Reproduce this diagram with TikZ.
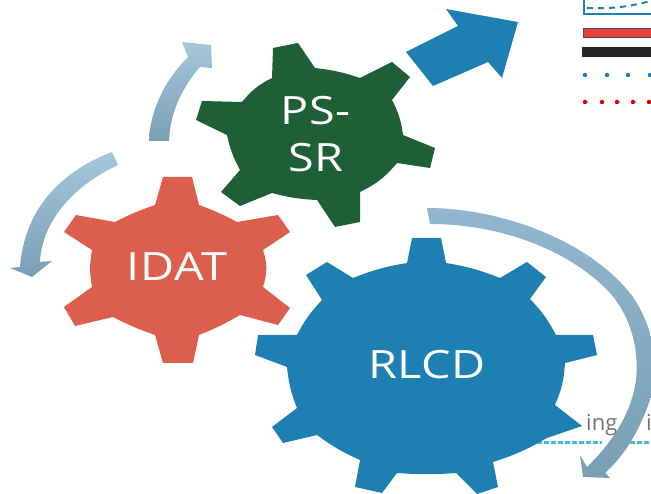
\documentclass[tikz,border=0pt]{standalone}
\usepackage{fontspec}
\setmainfont{Open Sans}
\newfontfamily\gearfont[FakeStretch=1.2,LetterSpace=1.5]{Open Sans}
\definecolor{gearred}{HTML}{DC5F4E}
\definecolor{geargreen}{HTML}{1F5F36}
\definecolor{gearblue}{HTML}{1E80B2}
\definecolor{swirltop}{HTML}{A6C6DC}
\definecolor{swirlbot}{HTML}{7A9FB5}
\definecolor{swirlmid}{HTML}{92B6CD}
\definecolor{barred}{HTML}{E8403F}
\definecolor{scrapcyan}{HTML}{3FC0D8}
\tikzset{
  gear/.style={draw=none},
  gearlabel/.style={text=white,font=\gearfont\fontsize{39}{47}\selectfont,align=center,inner sep=0pt},
  swirl/.style={draw=none,top color=swirltop,bottom color=swirlbot},
  legendbar/.style={draw=none,minimum width=69pt,minimum height=10pt,inner sep=0pt,anchor=west},
  legenddot/.style={circle,inner sep=0pt,minimum size=4.5pt},
  scraptext/.style={text=black!55,font=\fontsize{22}{24}\selectfont,inner sep=0pt,anchor=base west},
  scrapline/.style={scrapcyan,line width=3pt,dash pattern=on 5pt off 2pt}
}
\begin{document}
\begin{tikzpicture}[x=1pt,y=-1pt]
  \useasboundingbox (0,0) rectangle (651,494);

  % legend strip, top right
  \node[legendbar,fill=white,draw=gearblue,line width=2pt,minimum height=22pt] (legendbox) at (583,3) {};
  \coordinate (dashstart) at (587,8);
  \coordinate (dashend) at (651,1);
  \draw[gearblue,line width=2pt,dash pattern=on 6pt off 5pt] (dashstart) to[bend right=8] (dashend);
  \node[legendbar,fill=barred,draw=black!70,line width=1pt,minimum height=9pt] (redbar) at (582.5,33) {};
  \node[legendbar,fill=black!85] (blackbar) at (582,52) {};
  \foreach \x [count=\i] in {585,607,628,650}
    \node[legenddot,fill=gearblue] (bluedot\i) at (\x,75) {};
  \foreach \x [count=\i] in {585,602,617,633,649}
    \node[legenddot,fill=red!85!black] (reddot\i) at (\x,102) {};

  % scrap of text behind the big gear
  \node[scraptext] (scrap) at (586,430) {ing};
  \node[scraptext] (scrapb) at (646,430) {i};
  \coordinate (cyanstart) at (530,442);
  \coordinate (cyanend) at (602,442);
  \coordinate (cyanstartb) at (630,442);
  \coordinate (cyanendb) at (651,442);
  \draw[scrapline] (cyanstart) -- (cyanend);
  \draw[scrapline] (cyanstartb) -- (cyanendb);

  % the three gears
  \fill[gear,fill=gearred] (163,177) -- (192,177) -- (199,205) to[bend left=4] (237,222)
    -- (278,215) -- (290,232) -- (263,250) to[bend left=18] (263,287) -- (290,308)
    -- (278,325) -- (240,315) to[bend left=4] (199,335) -- (193,363) -- (163,363)
    -- (155,335) to[bend left=4] (113,317) -- (75,326) -- (64,307) -- (92,287)
    to[bend left=10] (92,250) -- (64,232) -- (76,215) -- (115,222) to[bend left=4] (155,205) -- cycle;
  \fill[gear,fill=geargreen] (273,48) -- (298,43) -- (315,68) to[bend left=6] (360,78)
    -- (392,62) -- (410,77) -- (392,100) to[bend left=10] (403,135) -- (435,148)
    -- (430,168) -- (397,163) to[bend left=12] (360,192) -- (360,222) -- (335,227)
    -- (317,200) to[bend left=6] (272,193) -- (240,206) -- (221,192) -- (240,170)
    to[bend left=8] (227,135) -- (196,120) -- (202,101) -- (242,102) to[bend left=12] (272,78) -- cycle;
  \fill[gear,fill=gearblue] (412,238) -- (441,238) -- (446,263) to[bend left=6] (500,278)
    -- (527,262) -- (546,277) -- (530,299) to[bend left=8] (556,335) -- (593,335)
    -- (597,355) -- (565,363) to[bend left=10] (555,405) -- (582,426) -- (547,438)
    to[bend left=6] (493,462) -- (498,487) -- (477,494) -- (456,473)
    to[bend left=4] (397,473) -- (382,493) -- (355,487) -- (360,460) to[bend left=6] (317,435)
    -- (283,443) -- (272,427) -- (297,408) to[bend left=8] (287,367) -- (255,355)
    -- (258,335) -- (297,335) to[bend left=8] (322,300) -- (306,275) -- (327,262)
    -- (353,278) to[bend left=6] (407,263) -- cycle;

  \node[gearlabel] (idat) at (177,267) {IDAT};
  \node[gearlabel] (pssr) at (316,134) {PS-\\SR};
  \node[gearlabel] (rlcd) at (427,365) {RLCD};

  % arrow out of the green gear
  \fill[gearblue] (406,52) -- (458,26) -- (446,9) -- (518,22) -- (502,78) -- (488,62) -- (433,86) -- cycle;

  % curved arrows
  \path[swirl] (149,141) .. controls (150,110) and (165,80) .. (188,57) -- (182,42) -- (211,45)
    -- (212,68) -- (200,67) .. controls (180,90) and (170,115) .. (169,141) -- cycle;
  \path[swirl] (112,152) .. controls (65,170) and (25,205) .. (20,267) -- (10,268) -- (32,277)
    -- (52,261) -- (40,262) .. controls (42,220) and (75,185) .. (118,165) -- cycle;
  \path[draw=none,top color=swirlmid,bottom color=swirlbot] (427,208)
    .. controls (500,208) and (590,240) .. (633,297)
    .. controls (655,330) and (660,370) .. (651,397)
    .. controls (640,430) and (625,455) .. (605,473) -- (610,478) -- (583,477) -- (580,455)
    -- (587,467) .. controls (615,440) and (632,410) .. (636,380)
    .. controls (640,340) and (625,310) .. (610,293)
    .. controls (570,250) and (500,224) .. (430,224) -- cycle;
\end{tikzpicture}
\end{document}
